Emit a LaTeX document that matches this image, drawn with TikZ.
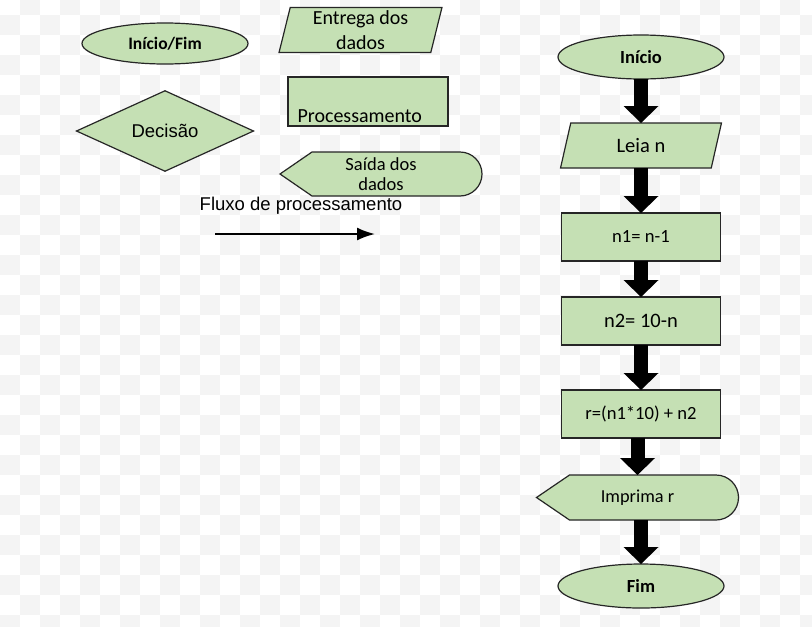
\documentclass[tikz,border=0pt]{standalone}
\usepackage{fontspec}
\setmainfont{Carlito}
\newfontfamily\arialfont{Liberation Sans}
\usetikzlibrary{arrows.meta, positioning, shapes, calc}
\definecolor{boxgreen}{HTML}{C5E0B4}
\definecolor{checkgrey}{HTML}{F4F4F4}
\pgfdeclarelayer{checker}
\pgfdeclarelayer{outline}
\pgfsetlayers{checker,outline,main}
\tikzstyle{shapeline} = [draw=black!85, line width=1.2pt, fill=boxgreen, outer sep=0pt]
\tikzstyle{terminal} = [ellipse, shapeline, minimum width=166pt, minimum height=44pt, inner sep=0pt, font=\fontsize{18.5}{22}\selectfont\bfseries]
\tikzstyle{process} = [rectangle, shapeline, minimum width=159pt, minimum height=48pt, inner sep=0pt, font=\fontsize{18.6}{22}\selectfont]
\tikzstyle{inputbox} = [trapezium, trapezium stretches=true, shapeline, inner sep=0pt, minimum height=45pt, align=center]
\tikzstyle{outputbox} = [rectangle, inner sep=0pt, outer sep=0pt, minimum width=202pt, minimum height=44pt, align=center]
\tikzstyle{bigarrow} = [line width=14pt, -{Triangle[length=17pt, width=35pt, line width=0pt]}]
\tikzstyle{flowarrow} = [line width=2pt, -{Latex[length=18pt, width=13pt]}]

\begin{document}
\begin{tikzpicture}[x=1pt, y=-1pt]
        \useasboundingbox (0,0) rectangle (812,627);

        % Checker background
        \begin{pgfonlayer}{checker}
        \fill[white] (0,0) rectangle (812,627);
        \begin{scope}
        \clip (0,0) rectangle (812,627);
        \foreach \i in {0,...,40} {
            \foreach \j in {-1,...,31} {
                \pgfmathtruncatemacro{\cellodd}{mod(\i+\j+100,2)}
                \ifnum\cellodd=0
                    \fill[checkgrey] (20*\i,15+20*\j) rectangle ++(20,20);
                \fi
            }
        }
        \end{scope}
        \end{pgfonlayer}

        % Legend
        \node[terminal, minimum height=41pt, font=\fontsize{17.5}{21}\selectfont\bfseries] (legend_term) at (165,43.5) {Início/Fim};
        \node[inputbox, trapezium left angle=79, trapezium right angle=101, minimum width=163pt, font=\fontsize{20}{25}\selectfont] (legend_in) at (360.5,30) {Entrega dos\\dados};
        \node[rectangle, shapeline, minimum height=49pt, inner xsep=9.5pt, inner ysep=0pt, text width=141pt, align=left, text height=45.7pt, text depth=3.3pt, font=\fontsize{20}{24}\selectfont] (legend_proc) at (368,101.5) {Processamento};
        \node[diamond, shapeline, minimum width=177pt, minimum height=74pt, inner sep=0pt, font=\arialfont\fontsize{18.5}{22}\selectfont] (legend_dec) at (165,131) {Decisão};
        \node[outputbox, font=\fontsize{18.5}{20}\selectfont] (legend_out) at (381,174) {Saída dos\\dados};
        \node[font=\arialfont\fontsize{18.5}{22}\selectfont] (legend_flow) at (301,206) {Fluxo de processamento};
        \coordinate (flow_a) at (215,234);
        \coordinate (flow_b) at (375,234);
        \draw[flowarrow] (flow_a) -- (flow_b);

        % Algorithm
        \node[terminal] (inicio) at (641,57) {Início};
        \node[inputbox, trapezium left angle=76, trapezium right angle=104, minimum width=161pt, font=\fontsize{20.5}{24}\selectfont, below=44pt of inicio] (leia) {Leia n};
        \node[process, below=45pt of leia] (n1) {n1= n-1};
        \node[process, font=\fontsize{20.5}{24}\selectfont, below=36pt of n1] (n2) {n2= 10-n};
        \node[process, below=45pt of n2] (r) {r=(n1*10) + n2};
        \node[outputbox, font=\fontsize{18.3}{22}\selectfont, below=37pt of r, xshift=-3.5pt, minimum height=45pt] (imprima) {Imprima r};
        \node[terminal, below=44pt of imprima, xshift=3.5pt] (fim) {Fim};

        % Output outlines
        \begin{pgfonlayer}{outline}
        \draw[shapeline] (legend_out.west) -- ($(legend_out.north west)+(32,0)$) -- ($(legend_out.north east)+(-22,0)$) arc[start angle=90, end angle=-90, radius=22pt] -- ($(legend_out.south west)+(32,0)$) -- cycle;
        \draw[shapeline] (imprima.west) -- ($(imprima.north west)+(33,0)$) -- ($(imprima.north east)+(-22.5,0)$) arc[start angle=90, end angle=-90, radius=22.5pt] -- ($(imprima.south west)+(33,0)$) -- cycle;
        \end{pgfonlayer}

        % Flow arrows
        \draw[bigarrow] (inicio.south) -- (leia.north);
        \draw[bigarrow] (leia.south) -- (n1.north);
        \draw[bigarrow] (n1.south) -- (n2.north);
        \draw[bigarrow] (n2.south) -- (r.north);
        \draw[bigarrow] (r.south -| imprima.north) -- (imprima.north);
        \draw[bigarrow] (imprima.south -| fim.north) -- (fim.north);
\end{tikzpicture}
\end{document}
